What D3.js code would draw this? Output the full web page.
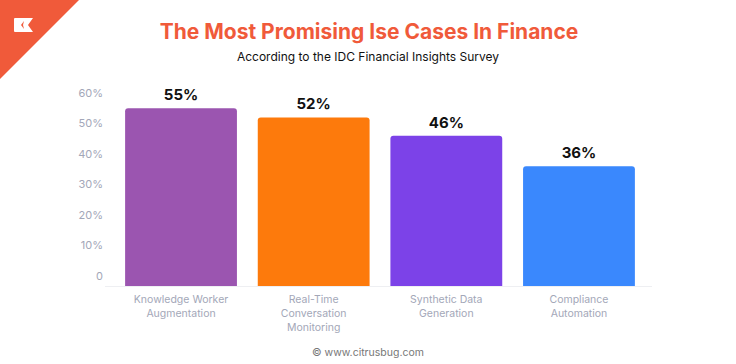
<!DOCTYPE html>
<html>
<head>
<meta charset="utf-8">
<script src="https://cdn.jsdelivr.net/npm/d3@7"></script>
<style>
  body { margin: 0; background: #fff; }
  text { font-family: Inter, "Open Sans", sans-serif; }
</style>
</head>
<body>
<div id="svg"></div>
<script>
const width = 736,
      height = 364;

// Data
const categories = [
  ["Knowledge Worker", "Augmentation"],
  ["Real-Time", "Conversation", "Monitoring"],
  ["Synthetic Data", "Generation"],
  ["Compliance", "Automation"]
];
const values = [55, 52, 46, 36];
const barColors = ["#9b55b0", "#fd7a0c", "#7c42e8", "#3a88fd"];
const yTicks = [0, 10, 20, 30, 40, 50, 60];

const svg = d3.select("#svg").append("svg")
    .attr("width", width)
    .attr("height", height);

// Corner logo
svg.append("path")
    .attr("d", "M0,0 L79,0 L0,79 Z")
    .attr("fill", "#f05a3a");
svg.append("path")
    .attr("d", "M15,18 L33,18 L28,25 L33,32 L15,32 Q14,32 14,31 L14,19 Q14,18 15,18 Z")
    .attr("fill", "#fff");
svg.append("path")
    .attr("d", "M24,21 L21,25 L24,29 L23,25 Z")
    .attr("fill", "#f05a3a");

// Titles
svg.append("text")
    .attr("x", 369)
    .attr("y", 39)
    .attr("text-anchor", "middle")
    .attr("fill", "#f05a3a")
    .style("font-size", "21px")
    .style("font-weight", 700)
    .text("The Most Promising Ise Cases In Finance");

svg.append("text")
    .attr("x", 368)
    .attr("y", 61)
    .attr("text-anchor", "middle")
    .attr("fill", "#111")
    .style("font-size", "12px")
    .style("font-weight", 400)
    .text("According to the IDC Financial Insights Survey");

// Scales
const x = d3.scaleBand()
    .domain(d3.range(values.length))
    .range([114.5, 645.5])
    .paddingInner(0.157)
    .paddingOuter(0.08);

const y = d3.scaleLinear()
    .domain([0, 60])
    .range([276, 93]);

const baseY = 286;

// Y labels
svg.append("g")
  .selectAll("text")
  .data(yTicks)
  .enter().append("text")
    .attr("x", 103)
    .attr("y", d => y(d))
    .attr("dy", "0.35em")
    .attr("text-anchor", "end")
    .attr("fill", "#a3a7b8")
    .style("font-size", "11px")
    .text(d => d === 0 ? "0" : d + "%");

// Axis line
svg.append("line")
    .attr("x1", 105)
    .attr("x2", 652)
    .attr("y1", baseY + 0.5)
    .attr("y2", baseY + 0.5)
    .attr("stroke", "#eeeff2");

// Bars (rounded top corners)
const r = 3;
svg.append("g")
  .selectAll("path")
  .data(values)
  .enter().append("path")
    .attr("fill", (d, i) => barColors[i])
    .attr("d", (d, i) => {
      const x0 = x(i), x1 = x(i) + x.bandwidth(), y0 = y(d);
      return `M${x0},${baseY} L${x0},${y0 + r} Q${x0},${y0} ${x0 + r},${y0} ` +
             `L${x1 - r},${y0} Q${x1},${y0} ${x1},${y0 + r} L${x1},${baseY} Z`;
    });

// Value labels
svg.append("g")
  .selectAll("text")
  .data(values)
  .enter().append("text")
    .attr("x", (d, i) => x(i) + x.bandwidth() / 2)
    .attr("y", d => y(d) - 8)
    .attr("text-anchor", "middle")
    .attr("fill", "#111")
    .style("font-size", "15px")
    .style("font-weight", 700)
    .text(d => d + "%");

// Category labels
const catG = svg.append("g")
  .selectAll("text")
  .data(categories)
  .enter().append("text")
    .attr("x", (d, i) => x(i) + x.bandwidth() / 2)
    .attr("y", 303)
    .attr("text-anchor", "middle")
    .attr("fill", "#a3a7b8")
    .style("font-size", "10.5px");
catG.selectAll("tspan")
  .data(d => d)
  .enter().append("tspan")
    .attr("x", function() { return d3.select(this.parentNode).attr("x"); })
    .attr("dy", (d, i) => i === 0 ? 0 : 14)
    .text(d => d);

// Footer
svg.append("text")
    .attr("x", 368)
    .attr("y", 356)
    .attr("text-anchor", "middle")
    .attr("fill", "#777")
    .style("font-size", "10.5px")
    .text("\u00a9  www.citrusbug.com");
</script>
</body>
</html>
